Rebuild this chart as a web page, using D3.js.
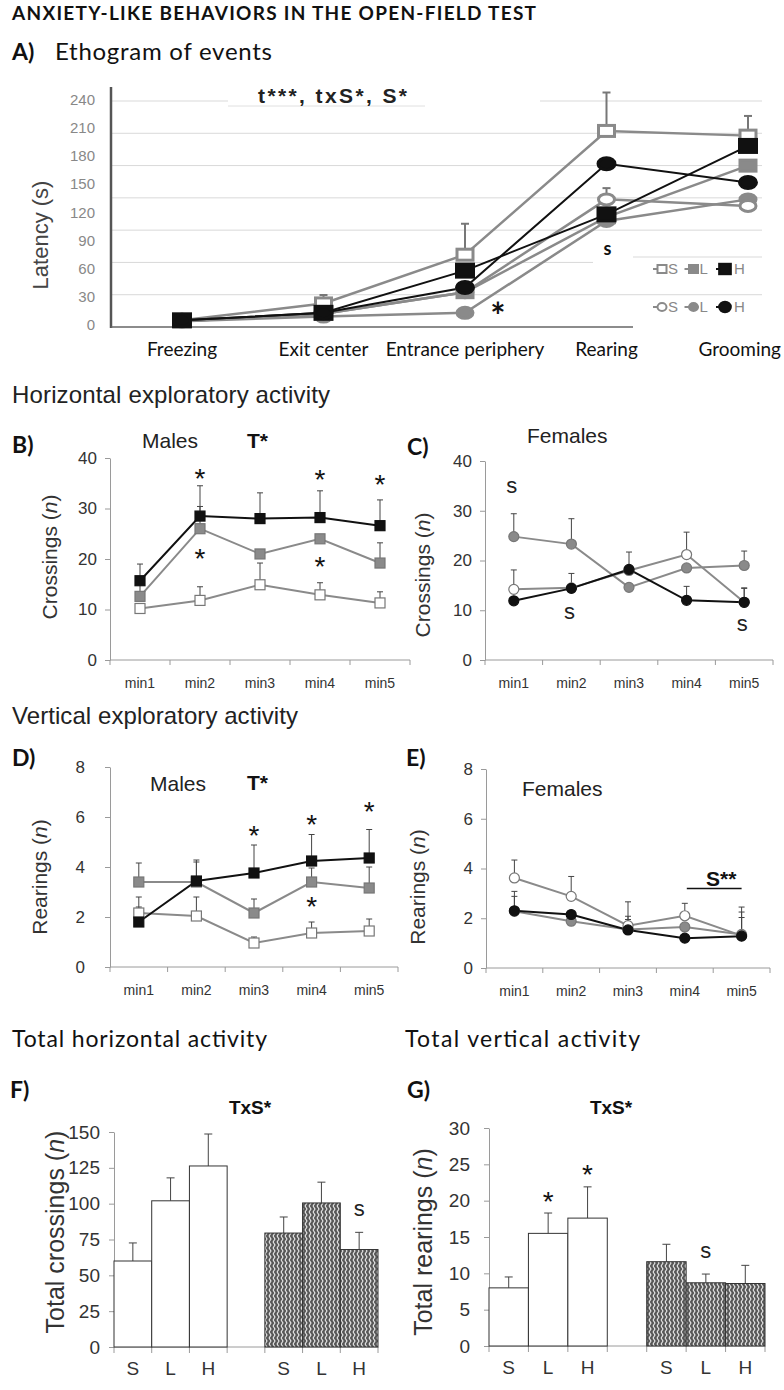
<!DOCTYPE html>
<html><head><meta charset="utf-8">
<script src="https://cdn.jsdelivr.net/npm/d3@7"></script>
<style>body{margin:0;background:#fff}svg{display:block}</style>
</head><body><svg id="c" width="784" height="1390"></svg>
<script>
// ---------------- DATA ----------------
const aCategories = ["Freezing", "Exit center", "Entrance periphery", "Rearing", "Grooming"];
const aYTicks = [0, 30, 60, 90, 120, 150, 180, 210, 240];
const aMaleS = [5, 23, 75, 207, 202];
const aMaleSErr = [0, 9, 33, 41, 21];
const aMaleL = [4, 12, 35, 115, 170];
const aMaleLErr = [0, 0, 0, 0, 0];
const aMaleH = [5, 13, 58, 118, 191];
const aMaleHErr = [0, 0, 0, 0, 0];
const aFemS = [4, 12, 35, 134, 127];
const aFemSErr = [0, 0, 0, 12, 0];
const aFemL = [4, 9, 13, 111, 134];
const aFemLErr = [0, 0, 0, 0, 0];
const aFemH = [5, 13, 40, 172, 152];
const aFemHErr = [0, 0, 0, 0, 0];
const legendGroups = ["S", "L", "H"];

const minutes = ["min1", "min2", "min3", "min4", "min5"];
const crossTicks = [0, 10, 20, 30, 40];
const rearTicks = [0, 2, 4, 6, 8];

const bMaleS = [10.2, 11.8, 14.9, 12.9, 11.3];
const bMaleSErr = [0, 2.7, 4.3, 2.4, 2.2];
const bMaleL = [12.6, 26.0, 21.0, 24.0, 19.2];
const bMaleLErr = [2.5, 4.4, 0, 0, 4.0];
const bMaleH = [15.7, 28.5, 28.0, 28.2, 26.6];
const bMaleHErr = [3.3, 6.0, 5.1, 5.3, 5.1];
const bStarsAbove = [null, 37.3, null, 37.1, 36.1];
const bStarsBelow = [null, 21.4, null, 19.8, null];

const cFemS = [14.2, 14.5, 18.0, 21.2, 11.6];
const cFemSErr = [3.9, 0, 0, 4.5, 2.8];
const cFemL = [24.8, 23.3, 14.6, 18.5, 19.0];
const cFemLErr = [4.6, 5.1, 0, 0, 2.9];
const cFemH = [11.9, 14.4, 18.2, 12.0, 11.6];
const cFemHErr = [0, 3.0, 3.5, 2.8, 2.9];
const cSigMarks = [34.7, 9.5, null, null, 7.1];

const dMaleS = [2.16, 2.04, 0.96, 1.36, 1.44];
const dMaleSErr = [0.64, 0.76, 0.24, 0.44, 0.48];
const dMaleL = [3.4, 3.4, 2.16, 3.4, 3.16];
const dMaleLErr = [0.76, 0.8, 0.56, 0.56, 0.84];
const dMaleH = [1.8, 3.44, 3.76, 4.24, 4.36];
const dMaleHErr = [0.6, 0.84, 1.12, 1.06, 1.14];
const dStarsAbove = [null, null, 5.52, 5.96, 6.48];
const dStarsBelow = [null, null, null, 2.68, null];

const eFemS = [3.62, 2.88, 1.7, 2.1, 1.3];
const eFemSErr = [0.72, 0.8, 0.96, 0.5, 1.15];
const eFemL = [2.28, 1.88, 1.55, 1.65, 1.35];
const eFemLErr = [0.6, 0, 0.4, 0, 0.9];
const eFemH = [2.3, 2.15, 1.53, 1.2, 1.28];
const eFemHErr = [0.78, 0, 0.55, 0, 0.75];

const barGroups = ["S", "L", "H"];
const fMale = [60, 102, 126.3];
const fMaleErr = [12.6, 16, 22.3];
const fFem = [79.5, 100.5, 68];
const fFemErr = [11.2, 14.5, 12];
const fTicks = [0, 25, 50, 75, 100, 125, 150];
const gMale = [8, 15.5, 17.6];
const gMaleErr = [1.5, 2.8, 4.3];
const gFem = [11.6, 8.7, 8.6];
const gFemErr = [2.4, 1.2, 2.5];
const gTicks = [0, 5, 10, 15, 20, 25, 30];

// ---------------- DRAWING ----------------
const ARIAL = "'Liberation Sans', Arial, sans-serif";
const CAL = "Lato, 'Open Sans', sans-serif";
const GRAY = "#8a8a8a";
const BLACK = "#111";
const svg = d3.select("#c");
svg.append("rect").attr("width", 784).attr("height", 1390).attr("fill", "#fff");

function txt(g, x, y, s, o = {}) {
  const t = g.append("text").attr("x", x).attr("y", y)
    .attr("font-family", o.font || ARIAL).attr("font-size", o.size || 16)
    .attr("font-weight", o.weight || 400).attr("fill", o.fill || "#111")
    .attr("text-anchor", o.anchor || "start").text(s);
  if (o.len) t.attr("textLength", o.len);
  return t;
}
function marker(g, shape, x, y, w, h, fill, stroke, sw) {
  if (shape === "sq") {
    g.append("rect").attr("x", x - w / 2).attr("y", y - h / 2).attr("width", w).attr("height", h)
      .attr("fill", fill).attr("stroke", stroke).attr("stroke-width", sw);
  } else {
    g.append("ellipse").attr("cx", x).attr("cy", y).attr("rx", w / 2).attr("ry", h / 2)
      .attr("fill", fill).attr("stroke", stroke).attr("stroke-width", sw);
  }
}

// Titles
txt(svg, 12, 20, "ANXIETY-LIKE BEHAVIORS IN THE OPEN-FIELD TEST", {font: CAL, size: 19, weight: 700, len: 524});
txt(svg, 12, 60, "A)", {font: CAL, size: 23, weight: 700});
txt(svg, 55, 60, "Ethogram of events", {font: CAL, size: 24, len: 217});

// ---------------- Panel A ----------------
(function () {
  const g = svg.append("g");
  const x = d3.scalePoint().domain(aCategories).range([182, 748]);
  const y = d3.scaleLinear().domain([0, 240]).range([325, 100]);
  const grid = d3.scaleLinear().domain([0, 210]).range([327, 101]);
  d3.range(30, 211, 30).forEach(v => {
    const gy = grid(v);
    g.append("line").attr("x1", 111).attr("x2", (gy > 250 && gy < 280) ? 593 : 762)
      .attr("y1", gy).attr("y2", gy).attr("stroke", "#d9d9d9").attr("stroke-width", 1);
  });
  g.append("line").attr("x1", 633).attr("x2", 762).attr("y1", 257).attr("y2", 257).attr("stroke", "#d9d9d9");
  g.append("rect").attr("x", 228).attr("y", 84).attr("width", 312).attr("height", 20).attr("fill", "#fff");
  g.append("line").attr("x1", 228).attr("x2", 425).attr("y1", 106).attr("y2", 106).attr("stroke", "#e0e0e0");
  txt(g, 258, 103, "t***, txS*, S*", {size: 21, weight: 700, fill: "#222", len: 149});

  g.append("line").attr("x1", 111).attr("x2", 111).attr("y1", 87).attr("y2", 328).attr("stroke", "#555").attr("stroke-width", 2.5);
  g.append("line").attr("x1", 111).attr("x2", 633).attr("y1", 327).attr("y2", 327).attr("stroke", "#666").attr("stroke-width", 1.5);
  aYTicks.forEach(v => txt(g, 95, y(v) + 5, String(v), {size: 15, fill: "#888", anchor: "end"}));
  aCategories.forEach(c => {
    const t = txt(g, x(c), 356, c, {font: CAL, size: 19, anchor: "middle", fill: "#111"});
    const hw = t.node().getComputedTextLength() / 2;
    if (x(c) + hw > 781) t.attr("x", 781 - hw);
  });
  g.append("text").attr("transform", "translate(48,235) rotate(-90)").attr("text-anchor", "middle")
    .attr("font-family", ARIAL).attr("font-size", 22).attr("fill", "#444").text("Latency (s)");

  const series = [
    {v: aMaleS, e: aMaleSErr, shape: "sq", fill: "#fff", stroke: GRAY, line: GRAY, w: 16, h: 11},
    {v: aFemL, e: aFemLErr, shape: "ci", fill: GRAY, stroke: GRAY, line: GRAY, w: 16, h: 11},
    {v: aFemS, e: aFemSErr, shape: "ci", fill: "#fff", stroke: GRAY, line: GRAY, w: 16, h: 11},
    {v: aMaleL, e: aMaleLErr, shape: "sq", fill: GRAY, stroke: GRAY, line: GRAY, w: 16, h: 11},
    {v: aMaleH, e: aMaleHErr, shape: "sq", fill: BLACK, stroke: BLACK, line: BLACK, w: 17, h: 13},
    {v: aFemH, e: aFemHErr, shape: "ci", fill: BLACK, stroke: BLACK, line: BLACK, w: 17, h: 12}
  ];
  const line = d3.line().x((d, i) => x(aCategories[i])).y(d => y(d));
  series.forEach(s => g.append("path").attr("d", line(s.v)).attr("fill", "none")
    .attr("stroke", s.line).attr("stroke-width", s.line === BLACK ? 2 : 2.5));
  series.forEach(s => s.v.forEach((v, i) => {
    if (!s.e[i]) return;
    const cx = x(aCategories[i]);
    g.append("line").attr("x1", cx).attr("x2", cx).attr("y1", y(v)).attr("y2", y(v + s.e[i])).attr("stroke", "#777").attr("stroke-width", 2);
    g.append("line").attr("x1", cx - 4).attr("x2", cx + 4).attr("y1", y(v + s.e[i])).attr("y2", y(v + s.e[i])).attr("stroke", "#777").attr("stroke-width", 2);
  }));
  series.forEach(s => s.v.forEach((v, i) => marker(g, s.shape, x(aCategories[i]), y(v), s.w, s.h, s.fill, s.stroke, 3)));

  txt(g, x(aCategories[2]) + 33, y(13.9) + 17, "*", {font: CAL, size: 36, weight: 700, anchor: "middle"});
  txt(g, x(aCategories[3]) + 1, y(80) + 5, "s", {font: CAL, size: 18, weight: 700, anchor: "middle"});

  const lx = d3.scalePoint().domain(legendGroups).range([662, 725]);
  const rows = [
    {y: 269, shape: "sq", fills: ["#fff", GRAY, BLACK]},
    {y: 307, shape: "ci", fills: ["#fff", GRAY, BLACK]}
  ];
  rows.forEach(r => legendGroups.forEach((k, i) => {
    const mx = lx(k);
    const col = i === 2 ? BLACK : GRAY;
    g.append("line").attr("x1", mx - 9).attr("x2", mx + 5).attr("y1", r.y).attr("y2", r.y).attr("stroke", col).attr("stroke-width", 2);
    const big = i === 2 ? 1.3 : 1;
    marker(g, r.shape, mx, r.y, 9 * big, 8 * big, r.fills[i], col, 2);
    txt(g, mx + 6 + (i === 2 ? 3 : 0), r.y + 5, k, {size: 15, fill: "#888"});
  }));
})();

// ---------------- Line panels B-E ----------------
txt(svg, 12, 403, "Horizontal exploratory activity", {size: 24, fill: "#222", len: 318});
txt(svg, 12, 724, "Vertical exploratory activity", {size: 24, fill: "#222", len: 286});

function linePanel(o) {
  const g = svg.append("g");
  const x = d3.scaleBand().domain(minutes).range([o.x0, o.x1]);
  const cx = m => x(m) + x.bandwidth() / 2;
  const y = d3.scaleLinear().domain([0, o.ticks[o.ticks.length - 1]]).range([o.yB, o.yT]);
  const ya = g.append("g").attr("transform", `translate(${o.x0},0)`)
    .call(d3.axisLeft(y).tickValues(o.ticks).tickSize(5).tickSizeOuter(0).tickPadding(o.pad));
  ya.select(".domain").attr("stroke", "#9a9a9a");
  ya.selectAll(".tick line").attr("stroke", "#9a9a9a");
  ya.selectAll(".tick text").attr("font-family", ARIAL).attr("font-size", 17).attr("fill", "#333");
  g.append("line").attr("x1", o.x0).attr("x2", o.x1).attr("y1", y(0)).attr("y2", y(0)).attr("stroke", "#9a9a9a");
  minutes.map(m => x(m)).concat([o.x1]).forEach(b =>
    g.append("line").attr("x1", b).attr("x2", b).attr("y1", y(0)).attr("y2", y(0) + 5).attr("stroke", "#9a9a9a"));
  minutes.forEach(m => txt(g, cx(m), y(0) + 28, m, {size: 14, fill: "#333", anchor: "middle"}));
  g.append("text").attr("transform", `translate(${o.labX},${o.labY}) rotate(-90)`).attr("text-anchor", "middle")
    .attr("font-family", ARIAL).attr("font-size", 21).attr("fill", "#333")
    .call(t => { t.append("tspan").text(o.label + " ("); t.append("tspan").attr("font-style", "italic").text("n"); t.append("tspan").text(")"); });
  txt(svg, o.letterX, o.letterY, o.letter, {font: CAL, size: 23, weight: 700});
  txt(g, o.sexX, o.sexY, o.sex, {size: 21, fill: "#222"});
  if (o.effect) txt(g, o.effX, o.effY, o.effect, {size: 21, weight: 700, fill: "#111"});

  const line = d3.line().x((d, i) => cx(minutes[i])).y(d => y(d));
  o.series.forEach(s => g.append("path").attr("d", line(s.v)).attr("fill", "none").attr("stroke", s.line).attr("stroke-width", 2));
  o.series.forEach(s => s.v.forEach((v, i) => {
    if (!s.e[i]) return;
    const px = cx(minutes[i]);
    g.append("line").attr("x1", px).attr("x2", px).attr("y1", y(v)).attr("y2", y(v + s.e[i])).attr("stroke", "#444").attr("stroke-width", 1);
    g.append("line").attr("x1", px - 3).attr("x2", px + 3).attr("y1", y(v + s.e[i])).attr("y2", y(v + s.e[i])).attr("stroke", "#444").attr("stroke-width", 1);
  }));
  o.series.forEach(s => s.v.forEach((v, i) => marker(g, s.shape, cx(minutes[i]), y(v), 10, 10, s.fill, s.stroke, 1.2)));
  (o.starsAbove || []).forEach((v, i) => { if (v != null) txt(g, cx(minutes[i]), y(v) + 16, "*", {size: 28, anchor: "middle"}); });
  (o.starsBelow || []).forEach((v, i) => { if (v != null) txt(g, cx(minutes[i]), y(v) + 16, "*", {size: 28, anchor: "middle"}); });
  (o.sig || []).forEach((v, i) => { if (v != null) txt(g, cx(minutes[i]) - 2, y(v) + 6, "s", {size: 22, anchor: "middle", fill: "#222"}); });
  return {g, x, y, cx};
}

const sqSeries = (S, Se, L, Le, H, He) => [
  {v: S, e: Se, shape: "sq", fill: "#fff", stroke: "#777", line: GRAY},
  {v: L, e: Le, shape: "sq", fill: GRAY, stroke: "#777", line: GRAY},
  {v: H, e: He, shape: "sq", fill: BLACK, stroke: BLACK, line: BLACK}
];
const ciSeries = (S, Se, L, Le, H, He) => [
  {v: L, e: Le, shape: "ci", fill: GRAY, stroke: "#777", line: GRAY},
  {v: S, e: Se, shape: "ci", fill: "#fff", stroke: "#777", line: GRAY},
  {v: H, e: He, shape: "ci", fill: BLACK, stroke: BLACK, line: BLACK}
];

linePanel({x0: 110, x1: 410, yB: 660, yT: 458, ticks: crossTicks, pad: 8, label: "Crossings", labX: 57, labY: 557,
  letter: "B)", letterX: 12, letterY: 453, sex: "Males", sexX: 142, sexY: 448, effect: "T*", effX: 247, effY: 448,
  series: sqSeries(bMaleS, bMaleSErr, bMaleL, bMaleLErr, bMaleH, bMaleHErr), starsAbove: bStarsAbove, starsBelow: bStarsBelow});
linePanel({x0: 485, x1: 773, yB: 660, yT: 461, ticks: crossTicks, pad: 8, label: "Crossings", labX: 430, labY: 575,
  letter: "C)", letterX: 407, letterY: 455, sex: "Females", sexX: 527, sexY: 443,
  series: ciSeries(cFemS, cFemSErr, cFemL, cFemLErr, cFemH, cFemHErr), sig: cSigMarks});
linePanel({x0: 110, x1: 398, yB: 967, yT: 767, ticks: rearTicks, pad: 20, label: "Rearings", labX: 47, labY: 877,
  letter: "D)", letterX: 12, letterY: 766, sex: "Males", sexX: 150, sexY: 791, effect: "T*", effX: 247, effY: 790,
  series: sqSeries(dMaleS, dMaleSErr, dMaleL, dMaleLErr, dMaleH, dMaleHErr), starsAbove: dStarsAbove, starsBelow: dStarsBelow});
const pe = linePanel({x0: 486, x1: 770, yB: 968, yT: 769, ticks: rearTicks, pad: 8, label: "Rearings", labX: 425, labY: 887,
  letter: "E)", letterX: 406, letterY: 766, sex: "Females", sexX: 522, sexY: 796,
  series: ciSeries(eFemS, eFemSErr, eFemL, eFemLErr, eFemH, eFemHErr)});
txt(pe.g, (pe.cx(minutes[3]) + pe.cx(minutes[4])) / 2 + 8, pe.y(3.62) + 8, "S**", {size: 21, weight: 700, anchor: "middle"});
pe.g.append("line").attr("x1", pe.cx(minutes[3]) + 2).attr("x2", pe.cx(minutes[4]))
  .attr("y1", pe.y(3.2)).attr("y2", pe.y(3.2)).attr("stroke", "#111").attr("stroke-width", 1.5);

// ---------------- Bar panels F, G ----------------
txt(svg, 12, 1047, "Total  horizontal activity", {font: CAL, size: 23, len: 255});
txt(svg, 405, 1047, "Total  vertical activity", {font: CAL, size: 23, len: 235});

const defs = svg.append("defs");
const pat = defs.append("pattern").attr("id", "zig").attr("patternUnits", "userSpaceOnUse").attr("width", 4).attr("height", 6);
pat.append("rect").attr("width", 4).attr("height", 6).attr("fill", "#585858");
pat.append("path").attr("d", "M1,0 L3,3 L1,6").attr("stroke", "#ececec").attr("stroke-width", 1.1).attr("fill", "none");

function barPanel(o) {
  const g = svg.append("g");
  const slots = ["mS", "mL", "mH", "gap", "fS", "fL", "fH"];
  const x = d3.scaleBand().domain(slots).range([o.x0, o.x1]).padding(0);
  const y = d3.scaleLinear().domain([0, o.ticks[o.ticks.length - 1]]).range([o.yB, o.yT]);
  const ya = g.append("g").attr("transform", `translate(${o.x0},0)`)
    .call(d3.axisLeft(y).tickValues(o.ticks).tickSize(5).tickSizeOuter(0).tickPadding(o.pad));
  ya.select(".domain").attr("stroke", "#9a9a9a");
  ya.selectAll(".tick line").attr("stroke", "#9a9a9a");
  ya.selectAll(".tick text").attr("font-family", ARIAL).attr("font-size", 19).attr("fill", "#333");
  g.append("line").attr("x1", o.x0).attr("x2", o.x1).attr("y1", y(0)).attr("y2", y(0)).attr("stroke", "#9a9a9a");
  slots.map(s => x(s)).concat([o.x1]).forEach(b =>
    g.append("line").attr("x1", b).attr("x2", b).attr("y1", y(0)).attr("y2", y(0) + 6).attr("stroke", "#9a9a9a"));
  const bars = [
    ...o.male.map((v, i) => ({slot: "m" + barGroups[i], v, e: o.maleErr[i], fill: "#fff", lab: barGroups[i]})),
    ...o.fem.map((v, i) => ({slot: "f" + barGroups[i], v, e: o.femErr[i], fill: "url(#zig)", lab: barGroups[i]}))
  ];
  bars.forEach(b => {
    const bx = x(b.slot), bw = x.bandwidth(), mid = bx + bw / 2;
    g.append("line").attr("x1", mid).attr("x2", mid).attr("y1", y(b.v)).attr("y2", y(b.v + b.e)).attr("stroke", "#444");
    g.append("line").attr("x1", mid - 4).attr("x2", mid + 4).attr("y1", y(b.v + b.e)).attr("y2", y(b.v + b.e)).attr("stroke", "#444");
    g.append("rect").attr("x", bx).attr("y", y(b.v)).attr("width", bw).attr("height", y(0) - y(b.v))
      .attr("fill", b.fill).attr("stroke", "#333").attr("stroke-width", 1);
    txt(g, mid, y(0) + 28, b.lab, {size: 19, fill: "#333", anchor: "middle"});
  });
  g.append("text").attr("transform", `translate(${o.labX},${o.labY}) rotate(-90)`).attr("text-anchor", "middle")
    .attr("font-family", ARIAL).attr("font-size", 25).attr("fill", "#333")
    .call(t => { t.append("tspan").text(o.label + " ("); t.append("tspan").attr("font-style", "italic").text("n"); t.append("tspan").text(")"); });
  txt(svg, o.letterX, 1098, o.letter, {font: CAL, size: 23, weight: 700});
  txt(g, o.effX, 1114, "TxS*", {size: 19, weight: 700, anchor: "middle"});
  (o.stars || []).forEach(s => txt(g, x(s.slot) + x.bandwidth() / 2, y(s.v) + 17, "*", {size: 28, anchor: "middle"}));
  (o.sig || []).forEach(s => txt(g, x(s.slot) + x.bandwidth() / 2, y(s.v) + 6, "s", {size: 22, anchor: "middle", fill: "#222"}));
}

barPanel({x0: 114, x1: 378, yB: 1347, yT: 1132, ticks: fTicks, pad: 9, male: fMale, maleErr: fMaleErr, fem: fFem, femErr: fFemErr,
  label: "Total crossings", labX: 64, labY: 1232, letter: "F)", letterX: 10, effX: 250,
  sig: [{slot: "fH", v: 95.6}]});
barPanel({x0: 489, x1: 765, yB: 1346, yT: 1128, ticks: gTicks, pad: 14, male: gMale, maleErr: gMaleErr, fem: gFem, femErr: gFemErr,
  label: "Total rearings", labX: 432, labY: 1242, letter: "G)", letterX: 407, effX: 611,
  stars: [{slot: "mL", v: 20.9}, {slot: "mH", v: 24.6}], sig: [{slot: "fL", v: 12.9}]});
</script></body></html>
